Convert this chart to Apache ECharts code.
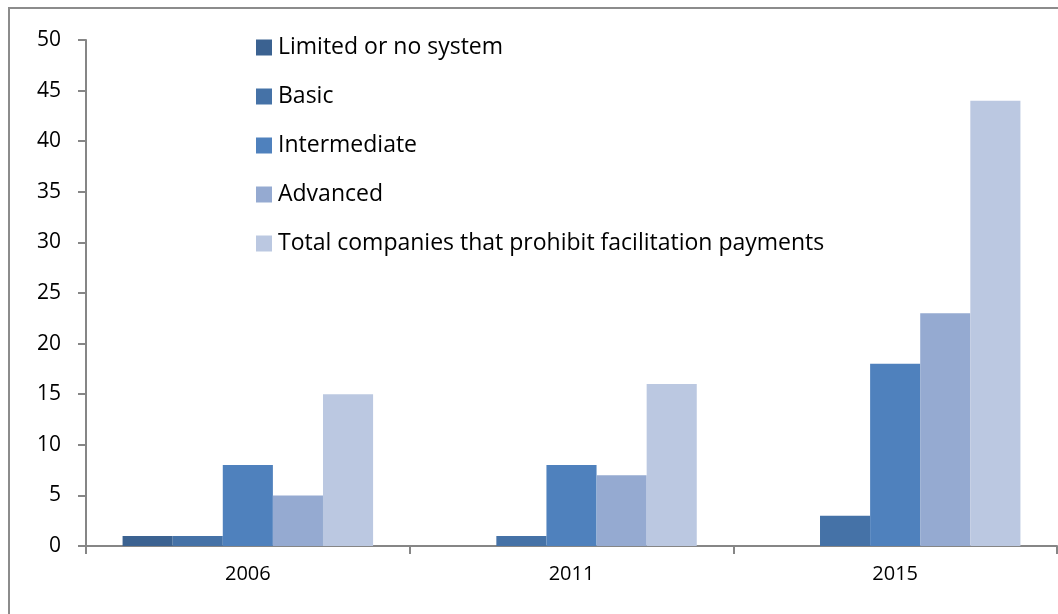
<!DOCTYPE html>
<html>
<head>
    <meta charset="utf-8">
    <title>Facilitation payments</title>
    <script src="https://cdn.jsdelivr.net/npm/echarts@6/dist/echarts.min.js"></script>
    <style>
        html, body { margin: 0; padding: 0; background: #fff; }
        #chart1 { width: 1058px; height: 614px; }
    </style>
</head>
<body>
    <div id="chart1"></div>
    <script type="text/javascript">
        // 数据
        var years = ['2006', '2011', '2015'];
        var limited = [1, 0, 0];
        var basic = [1, 1, 3];
        var intermediate = [8, 8, 18];
        var advanced = [5, 7, 23];
        var total = [15, 16, 44];
        var seriesNames = ['Limited or no system', 'Basic', 'Intermediate', 'Advanced',
            'Total companies that prohibit facilitation payments'];
        var colors = ['#3b6291', '#4572a7', '#4f81bd', '#95aad1', '#bbc8e1'];

        var myChart = echarts.init(document.getElementById('chart1'));
        var font = '"Open Sans", sans-serif';

        var option = {
            animation: false,
            color: colors,
            textStyle: { fontFamily: font },
            graphic: [{
                type: 'rect',
                shape: { x: 9, y: 8, width: 1070, height: 630 },
                style: { fill: 'none', stroke: '#8c8c8c', lineWidth: 2 },
                silent: true
            }],
            legend: {
                orient: 'vertical',
                left: 251,
                top: 31,
                icon: 'rect',
                itemWidth: 16,
                itemHeight: 16,
                itemGap: 26,
                textStyle: { fontSize: 23, color: '#000', fontFamily: font, padding: [0, 0, 0, 1] },
                data: seriesNames
            },
            grid: { left: 86, right: 1, top: 40, bottom: 68 },
            xAxis: {
                type: 'category',
                data: years,
                axisLine: { lineStyle: { color: '#868686', width: 2 } },
                axisTick: { show: true, length: 8, lineStyle: { color: '#868686', width: 2 } },
                axisLabel: { color: '#000', fontSize: 20, margin: 18, fontFamily: font }
            },
            yAxis: {
                type: 'value',
                min: 0,
                max: 50,
                interval: 5,
                splitLine: { show: false },
                axisLine: { show: true, lineStyle: { color: '#868686', width: 2 } },
                axisTick: { show: true, length: 8, lineStyle: { color: '#868686', width: 2 } },
                axisLabel: { color: '#000', fontSize: 21, margin: 25, fontFamily: font }
            },
            series: [
                { name: seriesNames[0], type: 'bar', data: limited, barGap: '0%', barCategoryGap: '22.6%' },
                { name: seriesNames[1], type: 'bar', data: basic, barGap: '0%', barCategoryGap: '22.6%' },
                { name: seriesNames[2], type: 'bar', data: intermediate, barGap: '0%', barCategoryGap: '22.6%' },
                { name: seriesNames[3], type: 'bar', data: advanced, barGap: '0%', barCategoryGap: '22.6%' },
                { name: seriesNames[4], type: 'bar', data: total, barGap: '0%', barCategoryGap: '22.6%' }
            ]
        };
        myChart.setOption(option);
    </script>
</body>
</html>
